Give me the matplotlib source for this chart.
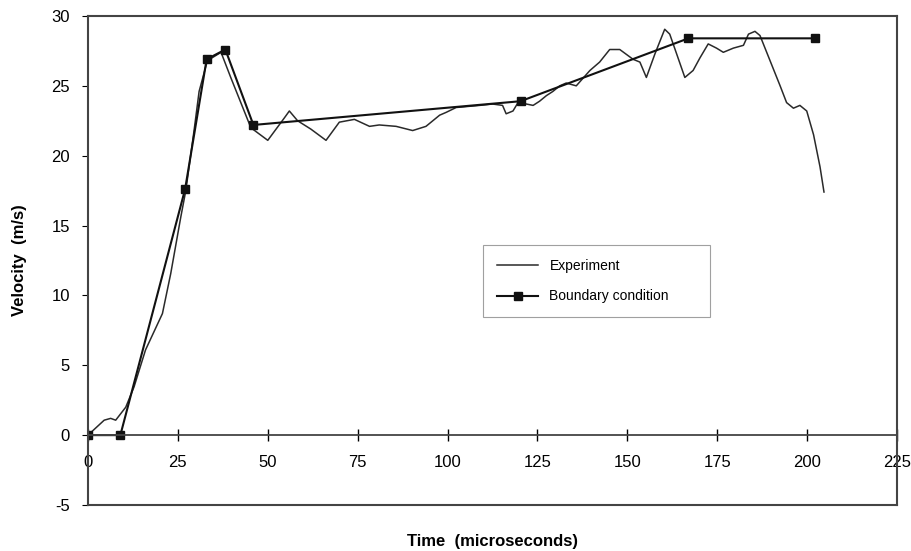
import numpy as np
import matplotlib
matplotlib.use("Agg")
import matplotlib.pyplot as plt

plt.rcParams['font.family'] = ['Liberation Sans', 'DejaVu Sans']
plt.rcParams['axes.unicode_minus'] = False

# experiment curve
exp_t = [0, 4.5, 6.3, 7.7, 10.5, 12.8, 16, 20.7, 23, 25.8, 27.2, 29.5, 30.9, 33.2, 37,
         39.7, 45.3, 50, 54.6, 56, 58.3, 62, 66.2, 69.9, 74.1, 78.3, 81, 85.7, 90.3,
         94, 97.8, 99.6, 102.4, 108.9, 112.5, 115.3, 116.3, 118.2, 119.6, 121.9, 123.8,
         125.6, 127.5, 129.3, 131.2, 133, 135.8, 139.6, 142.3, 145.1, 147.9, 151.6,
         153.5, 155.3, 157.7, 160.4, 161.8, 163.7, 166, 168.3, 170.2, 172.5, 174.8,
         176.7, 179.5, 182.3, 183.7, 185.5, 186.9, 189.7, 192.5, 194.3, 196.2, 198,
         199.9, 201.8, 203.6, 204.7]
exp_v = [0, 1.07, 1.2, 1.07, 2.0, 3.45, 6.1, 8.7, 11.55, 15.6, 17.5, 21.8, 24.6, 26.8, 27.4,
         25.6, 22.0, 21.1, 22.7, 23.2, 22.5, 21.9, 21.1, 22.4, 22.6, 22.1, 22.2, 22.1, 21.8,
         22.1, 22.9, 23.1, 23.45, 23.6, 23.7, 23.6, 23.0, 23.2, 23.8, 23.7, 23.6,
         23.9, 24.3, 24.6, 25.0, 25.2, 25.0, 26.1, 26.7, 27.6, 27.6, 26.9,
         26.7, 25.6, 27.3, 29.05, 28.7, 27.3, 25.6, 26.1, 27.0, 28.0, 27.7,
         27.4, 27.7, 27.9, 28.7, 28.9, 28.6, 26.8, 25.0, 23.8, 23.4, 23.6,
         23.2, 21.5, 19.2, 17.4]

# boundary condition points
bc_t = [0, 9, 27, 33, 38.2, 46, 120.3, 167, 202.2]
bc_v = [0, 0, 17.6, 26.9, 27.6, 22.2, 23.9, 28.4, 28.4]

fig = plt.figure(figsize=(9.11, 5.51), dpi=100)
ax = fig.add_axes([0.0966, 0.0835, 0.888, 0.8875])

ax.plot(exp_t, exp_v, color="#2a2a2a", lw=1.1, label="Experiment")
ax.plot(bc_t, bc_v, color="#111111", lw=1.5, marker="s", ms=6,
        label="Boundary condition")

ax.set_xlim(0, 225)
ax.set_ylim(-5, 30)
ax.set_xticks(np.arange(0, 226, 25))
ax.set_yticks(np.arange(-5, 31, 5))

for s in ax.spines.values():
    s.set_color("#444444")
    s.set_linewidth(1.5)
ax.spines['bottom'].set_position(('data', 0))
ax.spines['bottom'].set_linewidth(1.3)
# outer frame at the bottom
ax.plot([0, 1], [0, 0], transform=ax.transAxes, color="#444444", lw=1.5, clip_on=False)

ax.tick_params(axis='x', direction='inout', length=8, width=1, pad=10, labelsize=12)
ax.tick_params(axis='y', direction='out', length=4, width=0.8, pad=9, labelsize=12)

ax.set_xlabel("Time  (microseconds)", fontsize=12, fontweight='bold')
ax.xaxis.set_label_coords(0.5, -0.06)
ax.set_ylabel("Velocity  (m/s)", fontsize=12, fontweight='bold')
ax.yaxis.set_label_coords(-0.075, 0.5)

leg = ax.legend(loc='upper left', bbox_to_anchor=(0.488, 0.432, 0.281, 0.1),
                mode='expand', borderaxespad=0, fontsize=10,
                frameon=True, fancybox=False, edgecolor="#888888",
                borderpad=1.0, labelspacing=1.2, handlelength=3.0, markerscale=0.9)
leg.get_frame().set_linewidth(0.8)

fig.savefig("out.png", dpi=100)
